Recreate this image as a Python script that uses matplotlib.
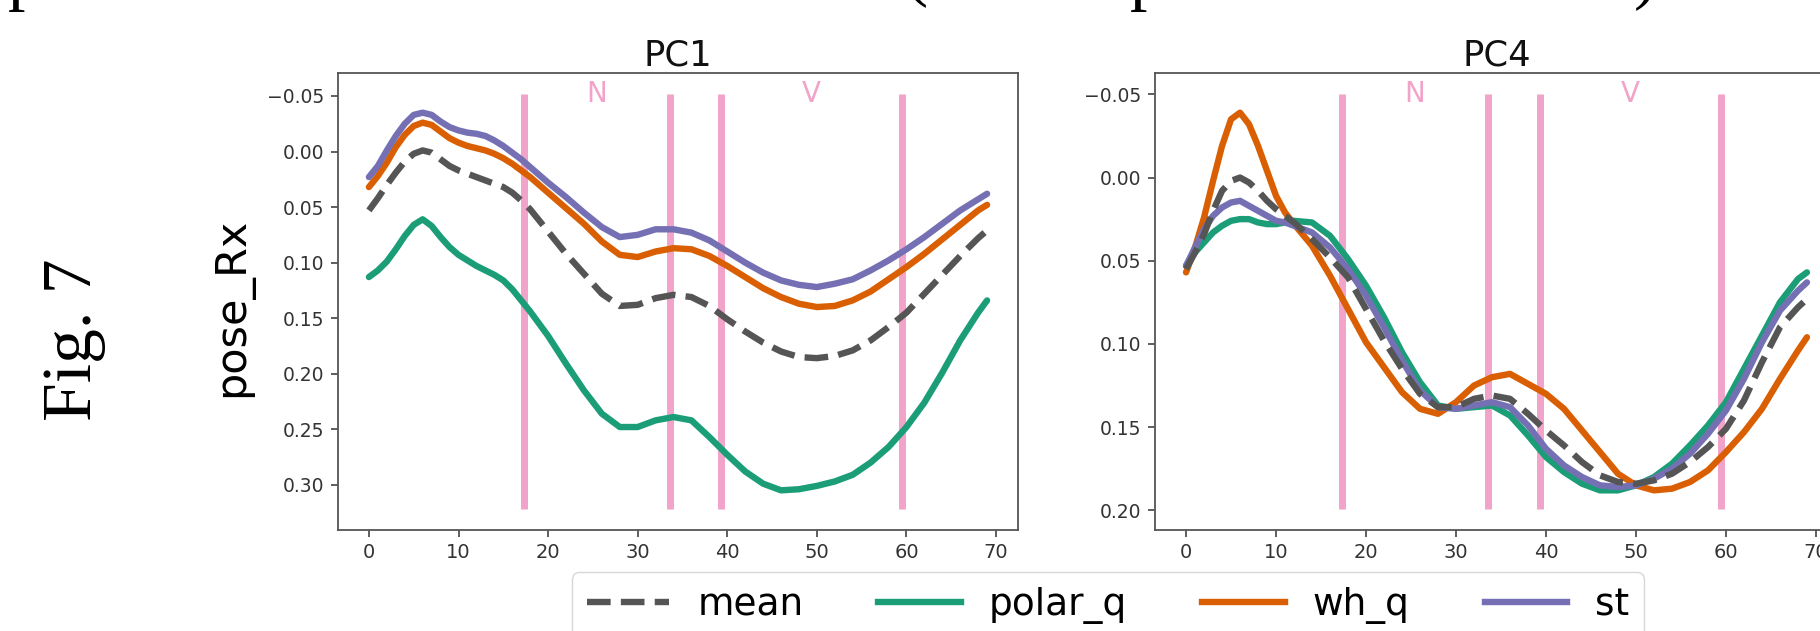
import matplotlib
matplotlib.use("Agg")
import matplotlib.pyplot as plt
from matplotlib.ticker import MultipleLocator
from matplotlib.lines import Line2D

# ---------------- data ----------------
PANEL_TITLES = ["PC1", "PC4"]
SERIES = ["mean", "polar_q", "wh_q", "st"]
YLABEL = "pose_Rx"
PHASE_LABELS = ["N", "V"]
PHASE_LINES = [17.3, 33.6, 39.3, 59.5]
X_TICKS = [0, 10, 20, 30, 40, 50, 60, 70]

PC1_X = [0, 1, 2, 3, 4, 5, 6, 7, 8, 9, 10, 11, 12, 13, 14, 15, 16, 17, 18, 20, 22, 24,
         26, 28, 30, 32, 34, 36, 38, 40, 42, 44, 46, 48, 50, 52, 54, 56, 58, 60, 62, 64,
         66, 68, 69]
PC1_MEAN = [0.053, 0.042, 0.030, 0.019, 0.009, 0.002, -0.001, 0.001, 0.007, 0.013,
            0.017, 0.020, 0.023, 0.026, 0.029, 0.032, 0.037, 0.044, 0.052, 0.072,
            0.092, 0.110, 0.128, 0.139, 0.138, 0.132, 0.129, 0.131, 0.139, 0.151,
            0.162, 0.172, 0.180, 0.185, 0.186, 0.184, 0.179, 0.170, 0.158, 0.145,
            0.128, 0.111, 0.094, 0.078, 0.071]
PC1_POLAR_Q = [0.113, 0.107, 0.099, 0.088, 0.076, 0.066, 0.061, 0.067, 0.077, 0.086,
               0.093, 0.098, 0.103, 0.107, 0.111, 0.116, 0.124, 0.134, 0.144, 0.166,
               0.191, 0.215, 0.236, 0.248, 0.248, 0.242, 0.239, 0.242, 0.257, 0.273,
               0.288, 0.299, 0.305, 0.304, 0.301, 0.297, 0.291, 0.280, 0.266, 0.248,
               0.226, 0.199, 0.170, 0.145, 0.134]
PC1_WH_Q = [0.032, 0.022, 0.010, -0.004, -0.015, -0.023, -0.026, -0.024, -0.018, -0.012,
            -0.008, -0.005, -0.003, -0.001, 0.002, 0.006, 0.011, 0.017, 0.023, 0.037,
            0.051, 0.065, 0.081, 0.093, 0.095, 0.090, 0.087, 0.088, 0.094, 0.103,
            0.113, 0.123, 0.131, 0.137, 0.140, 0.139, 0.134, 0.126, 0.115, 0.104,
            0.092, 0.079, 0.066, 0.053, 0.048]
PC1_ST = [0.023, 0.013, -0.001, -0.014, -0.025, -0.033, -0.035, -0.033, -0.027, -0.022,
          -0.019, -0.017, -0.016, -0.014, -0.010, -0.005, 0.001, 0.007, 0.014, 0.028,
          0.041, 0.055, 0.068, 0.077, 0.075, 0.070, 0.070, 0.073, 0.080, 0.090,
          0.100, 0.109, 0.116, 0.120, 0.122, 0.119, 0.115, 0.107, 0.098, 0.088,
          0.077, 0.065, 0.053, 0.043, 0.038]

PC4_X = [0, 1, 2, 3, 4, 5, 6, 7, 8, 9, 10, 11, 12, 14, 16, 18, 20, 22, 24, 26, 28, 30,
         32, 34, 36, 38, 40, 42, 44, 46, 48, 50, 52, 54, 56, 58, 60, 62, 64, 66, 68, 69]
PC4_MEAN = [0.055, 0.045, 0.034, 0.020, 0.008, 0.002, 0.000, 0.003, 0.008, 0.014,
            0.019, 0.023, 0.027, 0.037, 0.048, 0.060, 0.079, 0.098, 0.115, 0.130,
            0.138, 0.138, 0.133, 0.131, 0.133, 0.142, 0.152, 0.161, 0.171, 0.179,
            0.183, 0.184, 0.182, 0.178, 0.171, 0.162, 0.151, 0.134, 0.111, 0.090,
            0.078, 0.073]
PC4_POLAR_Q = [0.053, 0.045, 0.039, 0.033, 0.029, 0.026, 0.025, 0.025, 0.027, 0.028,
               0.028, 0.027, 0.026, 0.027, 0.035, 0.049, 0.065, 0.084, 0.105, 0.123,
               0.137, 0.139, 0.138, 0.137, 0.143, 0.155, 0.168, 0.177, 0.184, 0.188,
               0.188, 0.185, 0.180, 0.172, 0.161, 0.149, 0.135, 0.115, 0.095, 0.075,
               0.061, 0.057]
PC4_WH_Q = [0.057, 0.042, 0.024, 0.002, -0.019, -0.035, -0.039, -0.032, -0.019, -0.004,
            0.011, 0.021, 0.028, 0.041, 0.059, 0.079, 0.099, 0.114, 0.129, 0.139,
            0.142, 0.135, 0.125, 0.120, 0.118, 0.124, 0.130, 0.139, 0.152, 0.165,
            0.178, 0.185, 0.188, 0.187, 0.183, 0.176, 0.165, 0.153, 0.139, 0.121,
            0.104, 0.096]
PC4_ST = [0.053, 0.042, 0.031, 0.023, 0.018, 0.015, 0.014, 0.017, 0.020, 0.023,
          0.026, 0.027, 0.029, 0.033, 0.042, 0.055, 0.071, 0.090, 0.110, 0.128,
          0.138, 0.139, 0.137, 0.135, 0.138, 0.149, 0.163, 0.173, 0.180, 0.185,
          0.186, 0.185, 0.181, 0.175, 0.166, 0.154, 0.140, 0.121, 0.099, 0.080,
          0.068, 0.063]

# ---------------- style ----------------
COLORS = {"mean": "#555555", "polar_q": "#1b9e77", "wh_q": "#d95f02", "st": "#7570b3"}
PINK = "#f2a3c9"
LW = 4.6

W, H = 1820, 631
fig = plt.figure(figsize=(W / 100, H / 100), dpi=100)
fig.patch.set_facecolor("white")

ax1 = fig.add_axes([338 / W, 1 - 530 / H, 680 / W, 457 / H])
ax2 = fig.add_axes([1155 / W, 1 - 530 / H, 683 / W, 457 / H])

panels = [
    (ax1, PANEL_TITLES[0], PC1_X, {"mean": PC1_MEAN, "polar_q": PC1_POLAR_Q,
                                   "wh_q": PC1_WH_Q, "st": PC1_ST}),
    (ax2, PANEL_TITLES[1], PC4_X, {"mean": PC4_MEAN, "polar_q": PC4_POLAR_Q,
                                   "wh_q": PC4_WH_Q, "st": PC4_ST}),
]

for ax, title, xs, data in panels:
    allv = [v for s in SERIES for v in data[s]]
    lo, hi = min(allv), max(allv)
    pad = 0.05 * (hi - lo)
    vtop, vbot = lo - pad, hi + pad
    ax.vlines(PHASE_LINES, vtop, vbot, colors=PINK, linewidth=5, zorder=1)
    mids = [(PHASE_LINES[0] + PHASE_LINES[1]) / 2, (PHASE_LINES[2] + PHASE_LINES[3]) / 2]
    for m, lab in zip(mids, PHASE_LABELS):
        ax.text(m, vtop, lab, color=PINK, fontsize=20, ha="center", va="center", zorder=1)
    for s in ["polar_q", "wh_q", "st"]:
        ax.plot(xs, data[s], color=COLORS[s], lw=LW, solid_capstyle="round",
                solid_joinstyle="round", zorder=3)
    ax.plot(xs, data["mean"], color=COLORS["mean"], lw=LW, ls="--", zorder=4)
    ax.invert_yaxis()
    ax.yaxis.set_major_locator(MultipleLocator(0.05))
    ax.set_xticks(X_TICKS)
    ax.tick_params(axis="both", colors="#333333", length=5, width=1.1)
    ax.tick_params(axis="y", pad=5, labelsize=13.5)
    ax.tick_params(axis="x", pad=4, labelsize=14)
    for sp in ax.spines.values():
        sp.set_color("#555555")
        sp.set_linewidth(1.3)
    ax.set_title(title, fontsize=25.5, pad=2, color="#111111")

fig.text(232 / W, 1 - 307 / H, YLABEL, rotation=90, fontsize=31, ha="center", va="center")
fig.text(74 / W, 1 - 340 / H, "Fig. 7", rotation=90, fontsize=50,
         family="Liberation Serif", ha="center", va="center")

# fragments of the page line above the figure (cropped in the reference)
for ch, xp, yb in [("p", 8, -3), ("(", 905, -7), ("p", 1130, -3), (")", 1634, -4)]:
    fig.text(xp / W, 1 - yb / H, ch, fontsize=50, family="Liberation Serif",
             ha="left", va="baseline")

handles = [Line2D([], [], color=COLORS[s], lw=LW, ls="--" if s == "mean" else "-")
           for s in SERIES]
fig.legend(handles, SERIES, loc="upper center", bbox_to_anchor=(1108 / W, 1 - 572 / H),
           ncol=4, fontsize=27, handlelength=2.2, borderaxespad=0, columnspacing=2.0,
           handletextpad=0.75, frameon=True)

fig.savefig("out.png", dpi=100)
